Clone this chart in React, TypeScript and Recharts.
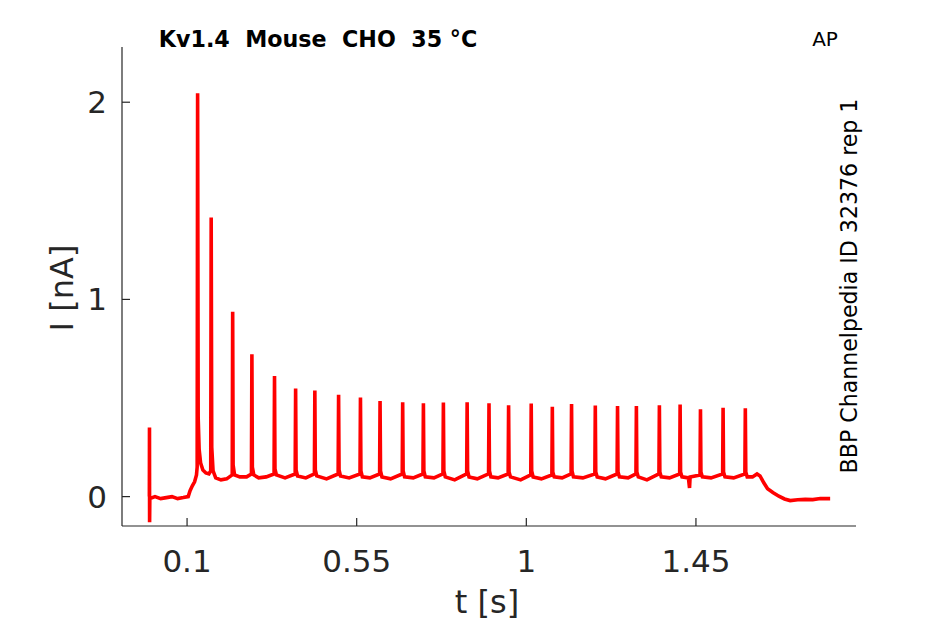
import React from "react";
import { LineChart, Line, XAxis, YAxis } from "recharts";

// Kv1.4 mouse CHO 35 °C, AP protocol: current trace.
// Rows are [t in s, I in nA].

const preStep: [number, number][] = [
  [0.0, 0.0],
  [0.0003, 0.35],
  [0.0006, -0.13],
  [0.0012, -0.01],
  [0.015, 0.0],
  [0.03, -0.01],
  [0.045, -0.005],
  [0.06, 0.0],
  [0.075, -0.01],
  [0.09, -0.005],
  [0.103, 0.0],
  [0.108, 0.03],
  [0.114, 0.055],
  [0.12, 0.075],
  [0.125, 0.11],
  [0.1268, 0.15],
];

const earlySpikes: [number, number][] = [
  [0.128, 2.045],
  [0.1295, 0.4],
  [0.132, 0.24],
  [0.136, 0.17],
  [0.142, 0.135],
  [0.15, 0.12],
  [0.158, 0.115],
  [0.1628, 0.13],
  [0.164, 1.415],
  [0.1655, 0.25],
  [0.169, 0.13],
  [0.176, 0.095],
  [0.19, 0.085],
  [0.205, 0.09],
  [0.2198, 0.11],
  [0.221, 0.937],
  [0.2222, 0.16],
  [0.226, 0.11],
  [0.24, 0.1],
  [0.258, 0.1],
  [0.2708, 0.115],
  [0.272, 0.722],
  [0.2732, 0.15],
  [0.277, 0.11],
  [0.29, 0.095],
  [0.31, 0.1],
  [0.3308, 0.115],
  [0.332, 0.612],
  [0.3332, 0.14],
  [0.337, 0.11],
  [0.36, 0.095],
  [0.3868, 0.115],
  [0.388, 0.548],
  [0.3892, 0.135],
  [0.393, 0.105],
  [0.415, 0.095],
  [0.4378, 0.115],
];

const laterSpikes: [number, number][] = [
  [0.439, 0.538], [0.4402, 0.135], [0.444, 0.105], [0.47, 0.09], [0.5008, 0.115],
  [0.502, 0.516], [0.5032, 0.135], [0.507, 0.105], [0.53, 0.095], [0.5588, 0.115],
  [0.56, 0.502], [0.5612, 0.13], [0.565, 0.1], [0.585, 0.095], [0.6108, 0.115],
  [0.612, 0.485], [0.6132, 0.13], [0.617, 0.1], [0.64, 0.09], [0.6708, 0.115],
  [0.672, 0.478], [0.6732, 0.13], [0.677, 0.1], [0.7, 0.095], [0.7258, 0.115],
  [0.727, 0.474], [0.7282, 0.13], [0.732, 0.1], [0.755, 0.095], [0.7788, 0.115],
  [0.78, 0.477], [0.7812, 0.13], [0.785, 0.1], [0.81, 0.085], [0.8418, 0.115],
  [0.843, 0.479], [0.8442, 0.13], [0.848, 0.1], [0.87, 0.09], [0.8998, 0.115],
  [0.901, 0.474], [0.9022, 0.13], [0.906, 0.1], [0.925, 0.095], [0.9518, 0.115],
  [0.953, 0.463], [0.9542, 0.125], [0.958, 0.1], [0.985, 0.085], [1.0118, 0.11],
  [1.013, 0.472], [1.0142, 0.13], [1.018, 0.1], [1.04, 0.09], [1.0678, 0.11],
  [1.069, 0.456], [1.0702, 0.125], [1.074, 0.1], [1.095, 0.095], [1.1188, 0.115],
  [1.12, 0.47], [1.1212, 0.13], [1.125, 0.1], [1.15, 0.095], [1.1818, 0.115],
  [1.183, 0.462], [1.1842, 0.125], [1.188, 0.1], [1.21, 0.09], [1.2408, 0.115],
  [1.242, 0.46], [1.2432, 0.125], [1.247, 0.1], [1.27, 0.095], [1.2908, 0.115],
  [1.292, 0.46], [1.2932, 0.125], [1.297, 0.1], [1.32, 0.085], [1.3518, 0.115],
  [1.353, 0.463], [1.3542, 0.125], [1.358, 0.1], [1.38, 0.095], [1.4068, 0.115],
  [1.408, 0.467], [1.4092, 0.125], [1.413, 0.1], [1.43, 0.095], [1.433, 0.044],
  [1.4345, 0.1], [1.4608, 0.11],
  [1.462, 0.443], [1.4632, 0.125], [1.467, 0.1], [1.49, 0.095], [1.5208, 0.115],
  [1.522, 0.451], [1.5232, 0.125], [1.527, 0.1], [1.55, 0.095], [1.5798, 0.115],
  [1.581, 0.448], [1.5822, 0.125], [1.586, 0.1],
];

const postStep: [number, number][] = [
  [1.6, 0.1],
  [1.612, 0.115],
  [1.62, 0.105],
  [1.63, 0.07],
  [1.64, 0.04],
  [1.655, 0.02],
  [1.67, 0.002],
  [1.685, -0.012],
  [1.7, -0.02],
  [1.72, -0.016],
  [1.74, -0.014],
  [1.76, -0.015],
  [1.78, -0.01],
  [1.806, -0.01],
];

const xTicks = [0.1, 0.55, 1, 1.45];
const yTicks = [0, 1, 2];

const INK = "#262626";
const FONT = "DejaVu Sans, sans-serif";

const data = [...preStep, ...earlySpikes, ...laterSpikes, ...postStep].map(
  ([t, i]) => ({ t, i })
);

function XTick(props: any) {
  const { x, y, payload } = props;
  return (
    <g>
      <line x1={x} x2={x} y1={y} y2={y - 8} stroke={INK} strokeWidth={1.2} />
      <text x={x} y={y + 46} textAnchor="middle" fontSize={31} fill={INK} fontFamily={FONT}>
        {String(payload.value)}
      </text>
    </g>
  );
}

function YTick(props: any) {
  const { x, y, payload } = props;
  return (
    <g>
      <line x1={x} x2={x + 8} y1={y} y2={y} stroke={INK} strokeWidth={1.2} />
      <text x={x - 15} y={y + 11} textAnchor="end" fontSize={31} fill={INK} fontFamily={FONT}>
        {String(payload.value)}
      </text>
    </g>
  );
}

export default function App() {
  return (
    <div style={{ position: "absolute", left: 0, top: 0, width: 945, height: 624, background: "#fff" }}>
      <LineChart
        width={945}
        height={624}
        data={data}
        margin={{ top: 47, right: 89, bottom: 0, left: 0 }}
      >
        <XAxis
          type="number"
          dataKey="t"
          domain={[-0.0726, 1.8746]}
          ticks={xTicks}
          allowDataOverflow
          height={98}
          tickSize={0}
          tickMargin={0}
          tickLine={false}
          axisLine={{ stroke: INK, strokeWidth: 1.2 }}
          tick={<XTick />}
          interval={0}
        />
        <YAxis
          type="number"
          domain={[-0.149, 2.28]}
          ticks={yTicks}
          allowDataOverflow
          width={122}
          tickSize={0}
          tickMargin={0}
          tickLine={false}
          axisLine={{ stroke: INK, strokeWidth: 1.2 }}
          tick={<YTick />}
          interval={0}
        />
        <Line
          type="linear"
          dataKey="i"
          stroke="#ff0000"
          strokeWidth={3.6}
          dot={false}
          isAnimationActive={false}
        />
      </LineChart>
      <svg
        width={945}
        height={624}
        style={{ position: "absolute", left: 0, top: 0, pointerEvents: "none" }}
      >
        <text
          x={318}
          y={47}
          textAnchor="middle"
          fontSize={22.2}
          fontWeight="bold"
          fontFamily={FONT}
          fill="#000"
          style={{ whiteSpace: "pre" }}
        >
          {"Kv1.4  Mouse  CHO  35 °C"}
        </text>
        <text x={825} y={46} textAnchor="middle" fontSize={20} fontFamily={FONT} fill="#000">
          AP
        </text>
        <text
          transform="translate(857, 286) rotate(-90)"
          textAnchor="middle"
          fontSize={22.1}
          fontFamily={FONT}
          fill="#000"
        >
          BBP Channelpedia ID 32376 rep 1
        </text>
        <text
          transform="translate(73, 288) rotate(-90)"
          textAnchor="middle"
          fontSize={32}
          fontFamily={FONT}
          fill={INK}
        >
          I [nA]
        </text>
        <text x={487} y={613} textAnchor="middle" fontSize={32} fontFamily={FONT} fill={INK}>
          t [s]
        </text>
      </svg>
    </div>
  );
}
